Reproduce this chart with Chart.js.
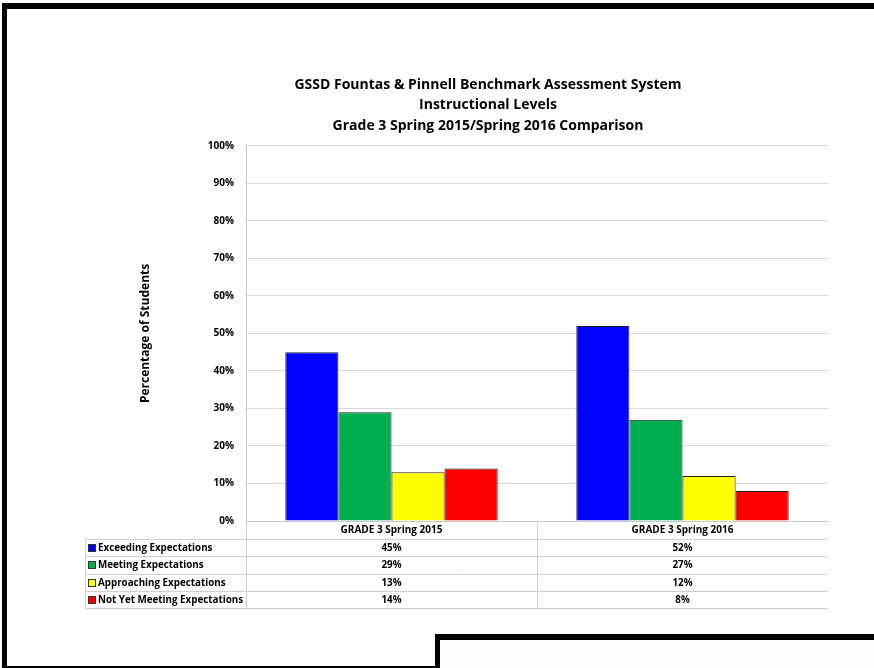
<!DOCTYPE html>
<html>
<head>
<meta charset="utf-8">
<script src="https://cdn.jsdelivr.net/npm/chart.js@4.4.1/dist/chart.umd.min.js"></script>
<style>
  html, body { margin: 0; padding: 0; background: #fff; }
  #wrap { position: relative; width: 874px; height: 668px; overflow: hidden; }
  #chart { position: absolute; left: 0; top: 0; }
  .bar { position: absolute; background: #000; }
  .box { position: absolute; left: 435px; top: 634px; width: 439px; height: 34px;
         border-top: 6px solid #000; border-left: 5px solid #000; box-sizing: border-box; background: #fdfdfd; }
</style>
</head>
<body>
<div id="wrap">
  <canvas id="chart" width="874" height="668"></canvas>
  <!-- page frame -->
  <div class="bar" style="left:2px;top:3px;width:872px;height:6px;"></div>
  <div class="bar" style="left:2px;top:3px;width:5px;height:665px;"></div>
  <div class="bar" style="left:2px;top:666px;width:436px;height:2px;"></div>
  <div class="box"></div>
</div>
<script>
// ===== DATA =====
const categories = ['GRADE 3 Spring 2015', 'GRADE 3 Spring 2016'];
const seriesNames = ['Exceeding Expectations', 'Meeting Expectations', 'Approaching Expectations', 'Not Yet Meeting Expectations'];
const exceeding = [45, 52];
const meeting = [29, 27];
const approaching = [13, 12];
const notYet = [14, 8];
const titleLines = ['GSSD Fountas & Pinnell Benchmark Assessment System', 'Instructional Levels', 'Grade 3 Spring 2015/Spring 2016 Comparison'];

const seriesValues = [exceeding, meeting, approaching, notYet];
const seriesColors = ['#0000FF', '#00B050', '#FFFF00', '#FF0000'];
const FONT = '"Open Sans"';

// ===== DATA TABLE UNDER THE PLOT =====
const dataTable = {
    id: 'dataTable',
    afterDraw(chart) {
        const { ctx, chartArea } = chart;
        const x = chart.scales.x;
        const tableLeft = 85;
        const headerH = 18;
        const rowH = 17.3;
        const top = chartArea.bottom;
        const mid = Math.round((chartArea.left + chartArea.right) / 2);
        const bottom = top + headerH + rowH * seriesNames.length;

        ctx.save();
        ctx.strokeStyle = '#d0d0d0';
        ctx.lineWidth = 1;
        ctx.beginPath();
        // horizontal rules
        for (let i = 0; i <= seriesNames.length; i++) {
            const y = Math.round(top + headerH + rowH * i) + 0.5;
            ctx.moveTo(tableLeft, y);
            ctx.lineTo(chartArea.right, y);
        }
        // vertical rules
        ctx.moveTo(tableLeft + 0.5, top + headerH);
        ctx.lineTo(tableLeft + 0.5, bottom);
        ctx.moveTo(Math.round(chartArea.left) + 0.5, top);
        ctx.lineTo(Math.round(chartArea.left) + 0.5, bottom);
        ctx.moveTo(mid + 0.5, top);
        ctx.lineTo(mid + 0.5, bottom);
        ctx.stroke();

        ctx.font = 'bold 9.8px ' + FONT;
        ctx.fillStyle = '#000';
        ctx.textBaseline = 'middle';
        seriesNames.forEach((name, i) => {
            const cy = top + headerH + rowH * i + rowH / 2 + 0.5;
            // legend key
            ctx.fillStyle = seriesColors[i];
            ctx.fillRect(88, Math.round(cy) - 4, 8, 8);
            ctx.strokeStyle = '#333';
            ctx.strokeRect(88.5, Math.round(cy) - 3.5, 7, 7);
            ctx.fillStyle = '#000';
            ctx.textAlign = 'left';
            ctx.fillText(name, 98, cy);
            // values per column
            ctx.textAlign = 'center';
            seriesValues[i].forEach((v, j) => {
                ctx.fillText(v + '%', x.getPixelForValue(j), cy);
            });
        });
        ctx.restore();
    }
};

// ===== CHART =====
const ctx = document.getElementById('chart');
new Chart(ctx, {
    type: 'bar',
    data: {
        labels: categories,
        datasets: seriesNames.map((name, i) => ({
            label: name,
            data: seriesValues[i],
            backgroundColor: seriesColors[i],
            borderColor: '#222222',
            borderWidth: 1,
            categoryPercentage: 0.73,
            barPercentage: 1.0
        }))
    },
    options: {
        responsive: false,
        animation: false,
        devicePixelRatio: 1,
        layout: {
            padding: { left: 148, right: 46, top: 73, bottom: 59 }
        },
        plugins: {
            legend: { display: false },
            tooltip: { enabled: false },
            title: {
                display: true,
                text: titleLines,
                color: '#000',
                font: { family: FONT, size: 14, weight: 'bold', lineHeight: 1.45 },
                padding: { top: 2, bottom: 10 }
            }
        },
        scales: {
            y: {
                min: 0,
                max: 100,
                afterFit(scale) { scale.width = 98; },
                ticks: {
                    stepSize: 10,
                    padding: 12,
                    color: '#000',
                    font: { family: FONT, size: 10, weight: 'bold' },
                    callback: v => v + '%'
                },
                grid: { color: '#d9d9d9', drawTicks: false },
                border: { color: '#c8c8c8' },
                title: {
                    display: true,
                    text: 'Percentage of Students',
                    color: '#000',
                    font: { family: FONT, size: 12, weight: 'bold' },
                    padding: { top: -10, bottom: 0 }
                }
            },
            x: {
                afterFit(scale) { scale.height = 88; },
                ticks: {
                    padding: 3,
                    color: '#000',
                    font: { family: FONT, size: 10, weight: 'bold' }
                },
                grid: { display: false, drawTicks: false },
                border: { color: '#c8c8c8' }
            }
        }
    },
    plugins: [dataTable]
});
</script>
</body>
</html>
